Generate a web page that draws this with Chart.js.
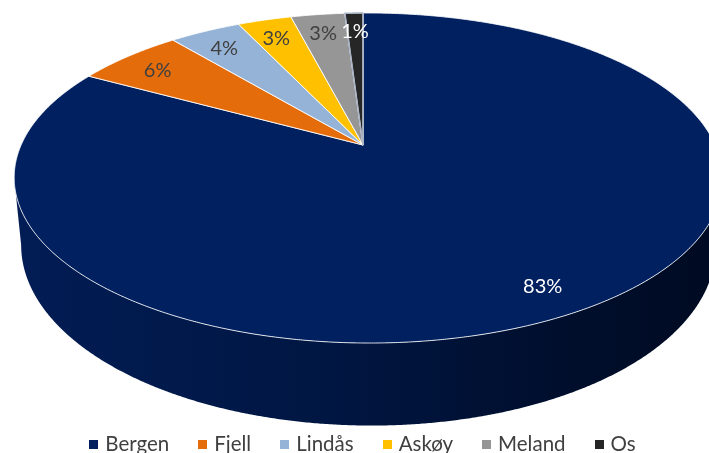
<!DOCTYPE html>
<html>
<head>
<meta charset="utf-8">
<script src="https://cdn.jsdelivr.net/npm/chart.js@4.4.1/dist/chart.umd.min.js"></script>
<style>
    html, body { margin: 0; padding: 0; background: #fff; }
    #wrap { position: relative; width: 709px; height: 453px; overflow: hidden; }
    #pie { position: absolute; left: 0; top: 0; }
    #legend {
        position: absolute; left: 8px; top: 431px; width: 709px;
        display: flex; justify-content: center; gap: 29px;
        font-family: Lato, 'Open Sans', sans-serif; font-size: 20.5px; color: #404040;
        white-space: nowrap;
    }
    #legend .item { display: flex; align-items: center; }
    #legend .box { width: 9px; height: 9px; margin-right: 7px; margin-top: 3px; }
</style>
</head>
<body>
<div id="wrap">
    <canvas id="pie" width="709" height="453"></canvas>
    <div id="legend"></div>
</div>
<script>
const kommuner = ['Bergen', 'Fjell', 'Lindås', 'Askøy', 'Meland', 'Os'];
const andel = [83, 6, 4, 3, 3, 1];
const farger = ['#002060', '#E46C0A', '#95B3D7', '#FFC000', '#969696', '#262626'];
const tekstFarger = ['#ffffff', '#404040', '#404040', '#404040', '#404040', '#ffffff'];

// tilted disc: apex, radii, perspective (front/back and left/right), thickness
const view = { cx: 363, cy: 145, rx: 347, ry: 158.4, persp: 0.2, side: 0.015, depth: 66, shrink: 0.98 };

function scaleAt(u, v) {
    return 1 / (1 - view.persp * v - view.side * u);
}

function topPoint(r, a) {
    const u = r * Math.cos(a), v = r * Math.sin(a);
    const s = scaleAt(u, v);
    return [view.cx + view.rx * u * s, view.cy + view.ry * v * s];
}

function bottomPoint(a) {
    const p = topPoint(1, a);
    const s = scaleAt(Math.cos(a), Math.sin(a));
    return [view.cx + (p[0] - view.cx) * view.shrink, p[1] + view.depth * s];
}

function silhouette() {
    // angles of the left- and right-most points of the top rim
    let aL = Math.PI, aR = 0, minX = Infinity, maxX = -Infinity;
    for (let a = -Math.PI / 2; a < Math.PI * 1.5; a += 0.001) {
        const x = topPoint(1, a)[0];
        if (x < minX) { minX = x; aL = a; }
        if (x > maxX) { maxX = x; aR = a; }
    }
    return { aL, aR };
}

function drawSide(ctx) {
    const { aL, aR } = silhouette();
    const step = 0.005;
    ctx.beginPath();
    for (let a = aR; a <= aL; a += step) {
        const p = topPoint(1, a);
        ctx.lineTo(p[0], p[1]);
    }
    for (let a = aL; a >= aR; a -= step) {
        const p = bottomPoint(a);
        ctx.lineTo(p[0], p[1]);
    }
    ctx.closePath();
    const g = ctx.createLinearGradient(14, 0, 712, 0);
    g.addColorStop(0, '#021d55');
    g.addColorStop(0.45, '#001642');
    g.addColorStop(0.75, '#000f2f');
    g.addColorStop(1, '#000b22');
    ctx.fillStyle = g;
    ctx.fill();

    // light rim between top face and side
    ctx.beginPath();
    for (let a = aR - 0.05; a <= aL + 0.05; a += step) {
        const p = topPoint(1, a);
        ctx.lineTo(p[0], p[1]);
    }
    return () => {
        ctx.strokeStyle = '#aab4c6';
        ctx.lineWidth = 1.5;
        ctx.stroke();
    };
}

function drawSlice(ctx, arc, color) {
    const { startAngle, endAngle } = arc.getProps(['startAngle', 'endAngle'], true);
    ctx.beginPath();
    ctx.moveTo(view.cx, view.cy);
    const n = Math.max(8, Math.ceil((endAngle - startAngle) / 0.005));
    for (let k = 0; k <= n; k++) {
        const p = topPoint(1, startAngle + (endAngle - startAngle) * k / n);
        ctx.lineTo(p[0], p[1]);
    }
    ctx.closePath();
    ctx.fillStyle = color;
    ctx.fill();
    ctx.strokeStyle = 'rgba(255,255,255,0.85)';
    ctx.lineWidth = 1;
    ctx.lineJoin = 'round';
    ctx.stroke();
}

function drawLabel(ctx, arc, i) {
    const { startAngle, endAngle } = arc.getProps(['startAngle', 'endAngle'], true);
    const p = topPoint(0.86, (startAngle + endAngle) / 2);
    ctx.font = '20px Lato, "Open Sans", sans-serif';
    ctx.textAlign = 'center';
    ctx.textBaseline = 'middle';
    ctx.fillStyle = tekstFarger[i];
    ctx.fillText(andel[i] + '%', p[0], p[1] + 3);
}

const pie3d = {
    id: 'pie3d',
    beforeDatasetsDraw(chart) {
        const ctx = chart.ctx;
        const arcs = chart.getDatasetMeta(0).data;
        ctx.save();
        const rim = drawSide(ctx);
        arcs.forEach((arc, i) => drawSlice(ctx, arc, farger[i]));
        rim();
        arcs.forEach((arc, i) => drawLabel(ctx, arc, i));
        ctx.restore();
        return false;
    }
};

new Chart(document.getElementById('pie'), {
    type: 'pie',
    data: {
        labels: kommuner,
        datasets: [{ data: andel, backgroundColor: farger, borderColor: '#ffffff', borderWidth: 1 }]
    },
    options: {
        responsive: false,
        animation: false,
        plugins: { legend: { display: false }, tooltip: { enabled: false } }
    },
    plugins: [pie3d]
});

document.getElementById('legend').innerHTML = kommuner.map((k, i) =>
    `<span class="item"><span class="box" style="background:${farger[i]}"></span>${k}</span>`
).join('');
</script>
</body>
</html>
